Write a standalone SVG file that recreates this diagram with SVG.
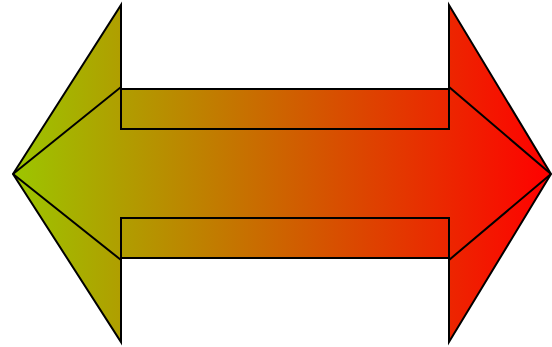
<svg xmlns="http://www.w3.org/2000/svg" width="552" height="347" viewBox="0 0 552 347">
<defs>
<linearGradient id="g" x1="13" y1="0" x2="551" y2="0" gradientUnits="userSpaceOnUse">
<stop offset="0" stop-color="#9cc600"/>
<stop offset="1" stop-color="#ff0000"/>
</linearGradient>
</defs>
<style>
.ln{fill:none;stroke:#000;stroke-width:2;stroke-linejoin:miter}
</style>
<g id="arrow">
<polygon points="13,174 121,5 121,89 449,89 449,5 551,174 449,342 449,258 121,258 121,342" fill="url(#g)" stroke="#000" stroke-width="2"/>
<polyline class="ln" points="13,174 121,87 121,129 449,129 449,87 551,174"/>
<polyline class="ln" points="13,174 121,260 121,218 449,218 449,260 551,174"/>
</g>
</svg>
